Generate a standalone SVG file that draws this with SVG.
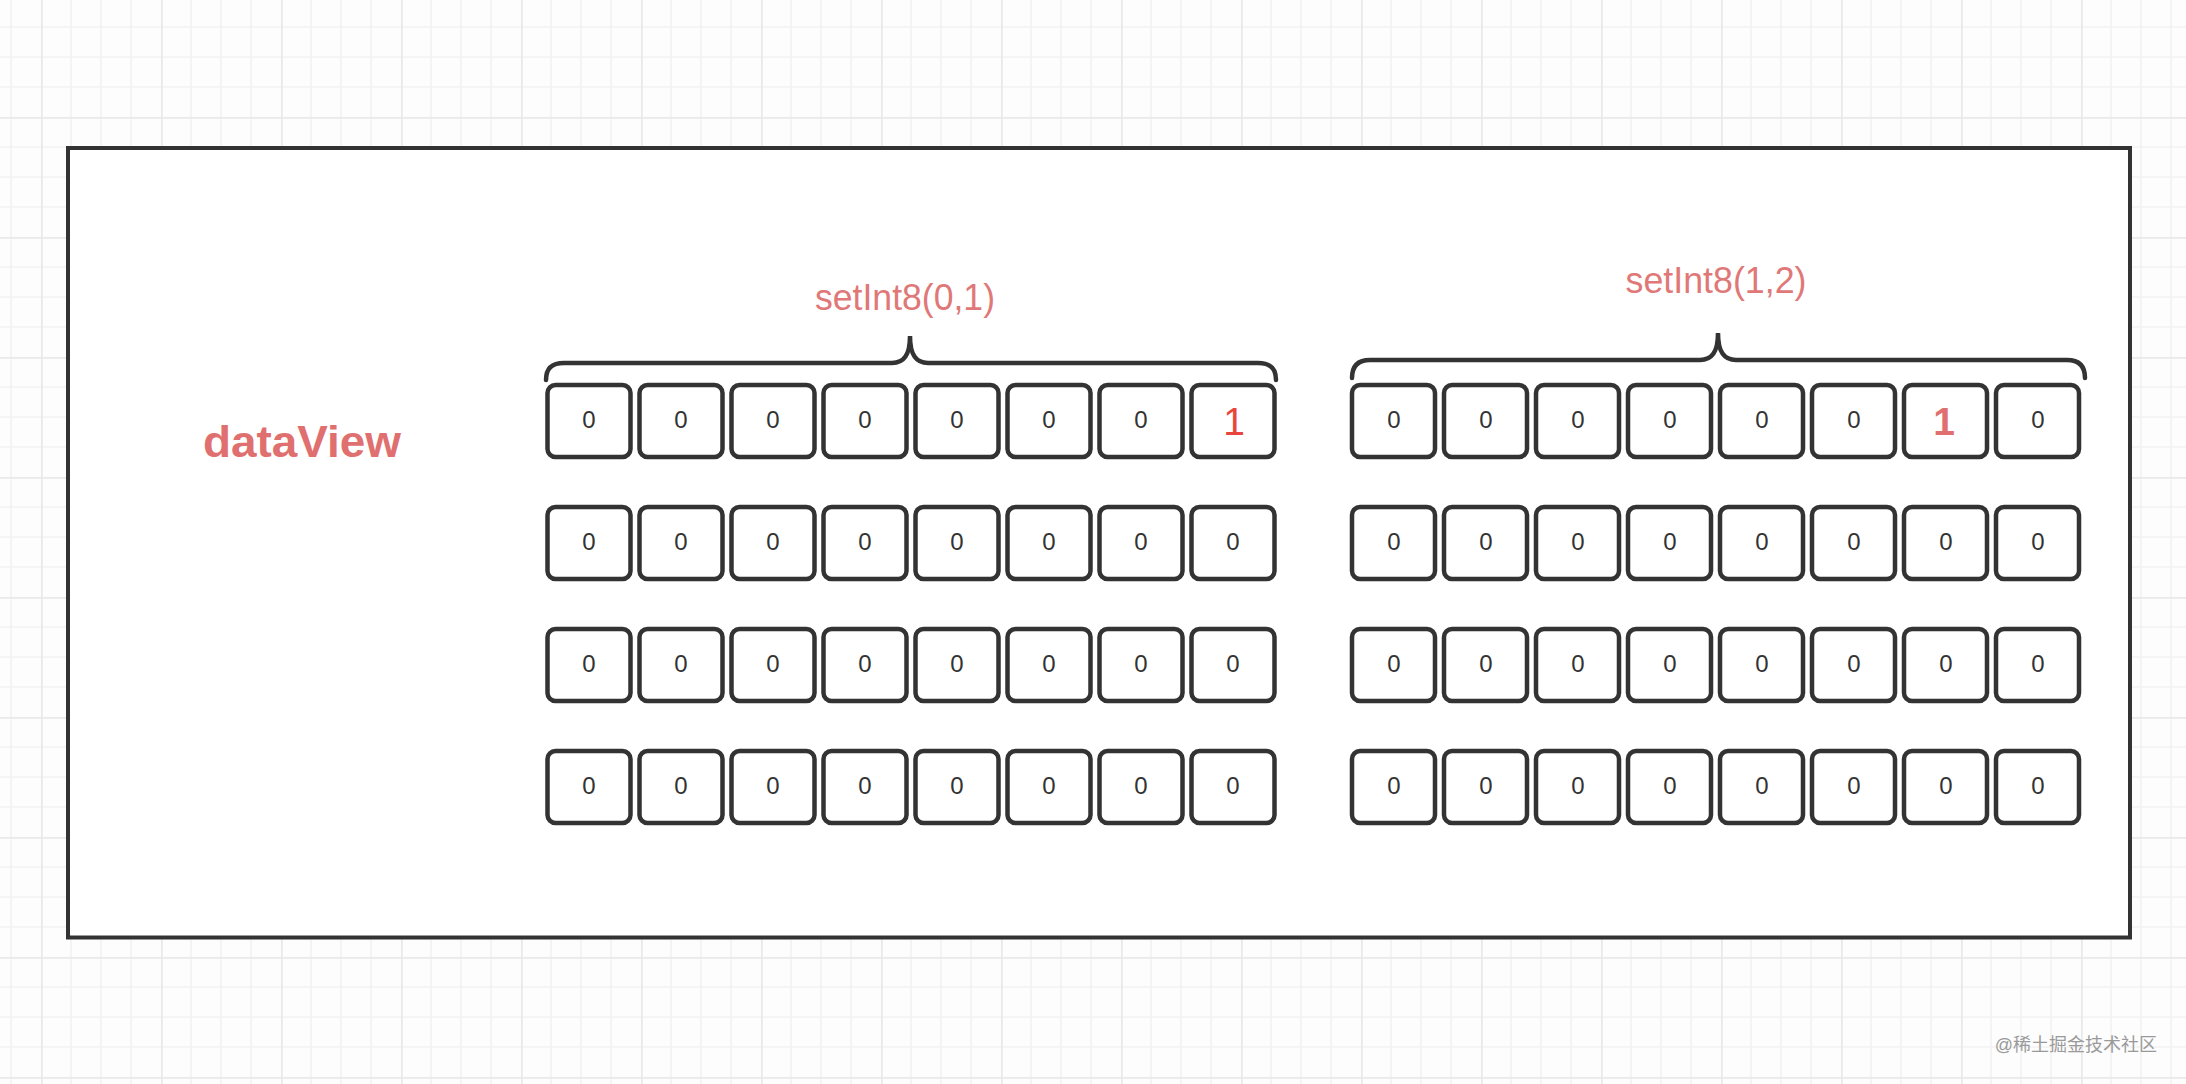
<svg xmlns="http://www.w3.org/2000/svg" width="2186" height="1084" viewBox="0 0 2186 1084">
<defs>
<pattern id="grid" x="41" y="117" width="120" height="120" patternUnits="userSpaceOnUse">
<path d="M30,0V120M60,0V120M90,0V120M0,30H120M0,60H120M0,90H120" stroke="#f2f2f2" stroke-width="1.6" fill="none"/>
<path d="M0.8,0V120M0,0.8H120" stroke="#e9e9e9" stroke-width="1.8" fill="none"/>
</pattern>
<style>
.cell{fill:#fff;stroke:#333;stroke-width:4.5}
.z{font-family:"Liberation Sans",Arial,sans-serif;font-size:24px;fill:#333;text-anchor:middle}
.lbl{font-family:"Liberation Sans",Arial,sans-serif;font-size:36px;fill:#e07878;text-anchor:middle}
.brace{fill:none;stroke:#333;stroke-width:4.5;stroke-linecap:round}
</style>
<g id="row">
<rect class="cell" x="0" y="0" width="83" height="72" rx="8"/>
<rect class="cell" x="92" y="0" width="83" height="72" rx="8"/>
<rect class="cell" x="184" y="0" width="83" height="72" rx="8"/>
<rect class="cell" x="276" y="0" width="83" height="72" rx="8"/>
<rect class="cell" x="368" y="0" width="83" height="72" rx="8"/>
<rect class="cell" x="460" y="0" width="83" height="72" rx="8"/>
<rect class="cell" x="552" y="0" width="83" height="72" rx="8"/>
<rect class="cell" x="644" y="0" width="83" height="72" rx="8"/>
</g>
</defs>
<rect width="2186" height="1084" fill="#fdfdfd"/>
<rect width="2186" height="1084" fill="url(#grid)"/>
<g id="container">
<rect x="68" y="148" width="2062" height="789.5" fill="#fff" stroke="#333" stroke-width="4"/>
</g>
<g id="dataView-label">
<text x="302" y="457" font-family="Liberation Sans,Arial,sans-serif" font-size="45" font-weight="bold" fill="#e07070" text-anchor="middle" textLength="198" lengthAdjust="spacingAndGlyphs">dataView</text>
</g>
<g id="group-left">
<use href="#row" x="547.5" y="385"/>
<use href="#row" x="547.5" y="507"/>
<use href="#row" x="547.5" y="629"/>
<use href="#row" x="547.5" y="751"/>
<g class="z">
<text x="589" y="428">0</text><text x="681" y="428">0</text><text x="773" y="428">0</text><text x="865" y="428">0</text><text x="957" y="428">0</text><text x="1049" y="428">0</text><text x="1141" y="428">0</text>
<text x="589" y="550">0</text><text x="681" y="550">0</text><text x="773" y="550">0</text><text x="865" y="550">0</text><text x="957" y="550">0</text><text x="1049" y="550">0</text><text x="1141" y="550">0</text><text x="1233" y="550">0</text>
<text x="589" y="672">0</text><text x="681" y="672">0</text><text x="773" y="672">0</text><text x="865" y="672">0</text><text x="957" y="672">0</text><text x="1049" y="672">0</text><text x="1141" y="672">0</text><text x="1233" y="672">0</text>
<text x="589" y="794">0</text><text x="681" y="794">0</text><text x="773" y="794">0</text><text x="865" y="794">0</text><text x="957" y="794">0</text><text x="1049" y="794">0</text><text x="1141" y="794">0</text><text x="1233" y="794">0</text>
</g>
<text x="1234" y="435" font-family="Liberation Sans,Arial,sans-serif" font-size="39" fill="#e8453c" text-anchor="middle">1</text>
</g>
<g id="group-right">
<use href="#row" x="1352" y="385"/>
<use href="#row" x="1352" y="507"/>
<use href="#row" x="1352" y="629"/>
<use href="#row" x="1352" y="751"/>
<g class="z">
<text x="1394" y="428">0</text><text x="1486" y="428">0</text><text x="1578" y="428">0</text><text x="1670" y="428">0</text><text x="1762" y="428">0</text><text x="1854" y="428">0</text><text x="2038" y="428">0</text>
<text x="1394" y="550">0</text><text x="1486" y="550">0</text><text x="1578" y="550">0</text><text x="1670" y="550">0</text><text x="1762" y="550">0</text><text x="1854" y="550">0</text><text x="1946" y="550">0</text><text x="2038" y="550">0</text>
<text x="1394" y="672">0</text><text x="1486" y="672">0</text><text x="1578" y="672">0</text><text x="1670" y="672">0</text><text x="1762" y="672">0</text><text x="1854" y="672">0</text><text x="1946" y="672">0</text><text x="2038" y="672">0</text>
<text x="1394" y="794">0</text><text x="1486" y="794">0</text><text x="1578" y="794">0</text><text x="1670" y="794">0</text><text x="1762" y="794">0</text><text x="1854" y="794">0</text><text x="1946" y="794">0</text><text x="2038" y="794">0</text>
</g>
<text x="1944" y="435" font-family="Liberation Sans,Arial,sans-serif" font-size="39" font-weight="bold" fill="#e07070" text-anchor="middle">1</text>
</g>
<g id="connectors">
<path class="brace" d="M546,380 C546,368 552,363 564,363 L892,363 C904,363 910,355 910,336 C910,355 916,363 928,363 L1258,363 C1270,363 1276,368 1276,380"/>
<path class="brace" d="M1352,378 C1352,366 1358,360 1370,360 L1700,360 C1712,360 1718,352 1718,333 C1718,352 1724,360 1736,360 L2067,360 C2079,360 2085,366 2085,378"/>
</g>
<g id="label-left">
<text class="lbl" x="905" y="310" textLength="180" lengthAdjust="spacingAndGlyphs">setInt8(0,1)</text>
</g>
<g id="label-right">
<text class="lbl" x="1716" y="293" textLength="181" lengthAdjust="spacingAndGlyphs">setInt8(1,2)</text>
</g>
<g id="watermark">
<text x="2157" y="1051" font-family="Liberation Sans,Noto Sans CJK SC,sans-serif" font-size="18" fill="#9a9a9a" text-anchor="end">@稀土掘金技术社区</text>
</g>
</svg>
